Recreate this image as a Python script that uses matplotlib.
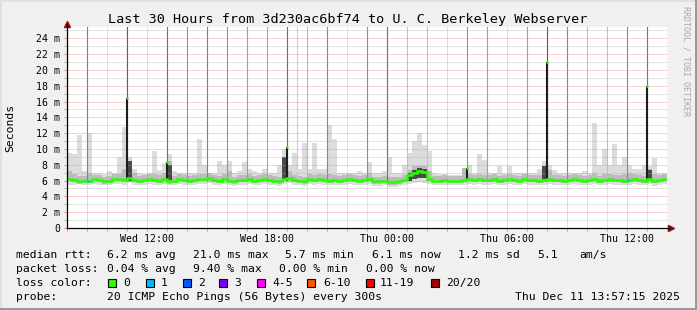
import numpy as np
import matplotlib
matplotlib.use('Agg')
import matplotlib.pyplot as plt
from matplotlib.patches import Rectangle
from matplotlib.ticker import MultipleLocator, FuncFormatter

plt.rcParams['font.family'] = 'DejaVu Sans Mono'

#   time axis: hours since Wed 00:00, one bin per 15 minutes starting Wed 08:00
t_start = 8.0
bin_h = 0.25

#   median rtt per bin (ms)
median_ms = [
    6.2, 6.1, 5.9, 6.0, 6.0, 6.2, 6.1, 5.9, 6.0, 6.2, 6.2, 6.1, 6.3, 6.1, 6.0, 6.1, 6.2, 6.1, 6.0, 6.2,
    5.9, 6.0, 6.2, 6.1, 6.0, 6.1, 6.2, 6.2, 6.3, 6.1, 6.0, 6.2, 6.0, 5.9, 6.1, 6.1, 6.2, 6.0, 6.1, 6.2,
    6.1, 6.0, 5.9, 6.2, 6.3, 6.1, 6.0, 5.9, 6.2, 6.1, 6.2, 6.1, 6.0, 6.1, 6.0, 6.1, 6.2, 6.1, 6.0, 6.1,
    6.2, 5.9, 5.9, 6.0, 5.8, 5.8, 5.9, 6.1, 6.7, 7.0, 7.2, 7.1, 6.2, 6.0, 6.0, 6.1, 6.0, 6.0, 6.0, 6.1,
    6.2, 6.1, 6.2, 6.1, 6.1, 6.2, 6.0, 6.1, 6.2, 6.1, 6.0, 6.2, 6.1, 6.1, 6.0, 6.1, 6.2, 6.1, 6.1, 6.0,
    6.1, 6.2, 6.1, 6.0, 6.1, 6.2, 6.0, 6.1, 6.2, 6.1, 6.1, 6.0, 6.1, 6.2, 6.1, 6.0, 6.2, 6.0, 6.1, 6.2,
]

#   smoke: upper edge of the light smoke, the darker band and the bottom edge (ms)
smoke_hi = [
    9.5, 9.4, 11.8, 7.2, 12.0, 7.0, 6.9, 6.8, 7.2, 6.9, 9.0, 12.8, 9.0, 7.5, 7.0, 6.8, 6.9, 9.8, 7.4, 8.2,
    9.4, 7.2, 6.9, 7.0, 7.0, 7.0, 11.3, 8.0, 7.0, 7.0, 8.5, 8.0, 8.5, 7.0, 7.2, 8.4, 7.5, 7.2, 7.0, 7.5,
    7.0, 7.0, 8.0, 10.0, 8.0, 9.5, 7.5, 10.8, 7.5, 10.8, 7.5, 7.5, 13.0, 11.3, 7.0, 7.0, 7.0, 7.0, 7.2, 7.0,
    8.4, 7.0, 7.0, 7.2, 9.0, 7.0, 7.0, 8.0, 9.5, 11.0, 12.0, 10.5, 9.8, 7.0, 6.8, 6.8, 6.7, 6.7, 6.7, 7.3,
    8.0, 7.0, 9.4, 8.6, 7.0, 7.0, 7.8, 7.0, 7.8, 6.9, 6.9, 6.9, 7.0, 7.0, 7.5, 8.5, 8.0, 7.3, 7.0, 7.0,
    7.0, 7.0, 7.0, 7.2, 7.0, 13.3, 8.0, 10.0, 8.0, 10.6, 8.0, 9.0, 8.0, 7.5, 7.5, 8.0, 7.8, 8.8, 7.0, 7.0,
]
smoke_mid = [
    7.2, 6.8, 6.6, 6.6, 6.9, 6.7, 6.7, 6.5, 6.6, 6.8, 6.8, 7.5, 8.0, 6.9, 6.6, 6.7, 6.8, 6.8, 6.7, 7.0,
    8.5, 6.6, 6.8, 6.7, 6.6, 6.7, 6.8, 6.8, 6.9, 6.7, 6.6, 6.8, 7.2, 6.5, 6.7, 6.7, 6.8, 6.6, 6.7, 6.8,
    6.7, 6.6, 6.5, 8.5, 7.2, 6.7, 6.6, 6.5, 6.8, 6.7, 6.8, 6.7, 6.8, 6.7, 6.6, 6.7, 6.8, 6.7, 6.6, 6.7,
    7.0, 6.5, 6.5, 6.6, 6.4, 6.4, 6.5, 6.7, 7.4, 7.8, 7.9, 7.9, 7.2, 6.6, 6.6, 6.7, 6.6, 6.6, 6.6, 7.6,
    6.8, 6.7, 6.8, 6.7, 6.7, 6.8, 6.6, 6.7, 6.8, 6.7, 6.6, 6.8, 6.7, 6.7, 6.7, 7.6, 7.4, 6.7, 6.7, 6.6,
    6.7, 6.8, 6.7, 6.6, 6.7, 6.9, 6.6, 6.8, 6.8, 6.7, 6.7, 6.8, 6.9, 6.8, 6.7, 6.6, 7.5, 6.8, 6.7, 6.8,
]
smoke_lo = [
    5.5, 5.4, 5.6, 5.5, 5.5, 5.6, 5.5, 5.4, 5.5, 5.6, 5.6, 5.5, 5.7, 5.5, 5.4, 5.5, 5.6, 5.5, 5.5, 5.6,
    5.4, 5.5, 5.6, 5.5, 5.5, 5.5, 5.6, 5.6, 5.7, 5.5, 5.5, 5.6, 5.4, 5.3, 5.5, 5.5, 5.6, 5.5, 5.5, 5.6,
    5.5, 5.5, 5.3, 5.6, 5.7, 5.5, 5.4, 5.3, 5.6, 5.5, 5.6, 5.5, 5.5, 5.5, 5.4, 5.5, 5.6, 5.5, 5.4, 5.5,
    5.6, 5.3, 5.3, 5.4, 5.2, 5.2, 5.3, 5.5, 5.6, 5.7, 5.8, 5.7, 5.6, 5.5, 5.4, 5.5, 5.5, 5.5, 5.5, 5.5,
    5.6, 5.5, 5.6, 5.5, 5.5, 5.6, 5.4, 5.5, 5.6, 5.5, 5.4, 5.6, 5.5, 5.5, 5.5, 5.5, 5.6, 5.5, 5.5, 5.4,
    5.5, 5.6, 5.5, 5.4, 5.5, 5.6, 5.4, 5.5, 5.6, 5.5, 5.5, 5.4, 5.5, 5.6, 5.5, 5.4, 5.6, 5.3, 5.5, 5.6,
]

#   dense (dark) smoke patches: bin index, bottom, top (ms)
dense_bins = [12, 20, 43, 68, 69, 70, 71, 95, 116]
dense_lo = [6.0, 6.1, 6.2, 6.0, 6.2, 6.3, 6.3, 6.2, 6.2]
dense_hi = [8.5, 8.0, 9.0, 7.0, 7.4, 7.6, 7.5, 7.8, 7.4]

#   bins where the median had packet loss (count of lost pings)
loss_bins = [4, 112]
loss_counts = [1, 1]

#   hourly smoke lines running off the top of the graph (hour, shade)
line_hours = [8, 9, 11, 13, 14, 15, 16, 17, 18, 19, 19.5, 20, 21, 23, 24, 25, 26, 28, 29, 31, 32, 33, 34, 35, 36, 37]
line_shades = ['#555555', '#6e6e6e', '#2e2e2e', '#4e4e4e', '#858585', '#6e6e6e', '#858585', '#959595',
               '#aaaaaa', '#4a4a4a', '#cccccc', '#bdbdbd', '#7a7a7a', '#7a7a7a', '#555555', '#cccccc',
               '#cccccc', '#858585', '#999999', '#999999', '#2e2e2e', '#7a7a7a', '#cccccc', '#c8c8c8',
               '#7a7a7a', '#555555']

#   single 5 minute median spikes (hour, ms)
spike_hours = [11, 13, 19, 28, 32, 37]
spike_med = [16.4, 8.4, 10.3, 7.6, 21.0, 18.0]

tick_hours = [12, 18, 24, 30, 36]
tick_labels = ['Wed 12:00', 'Wed 18:00', 'Thu 00:00', 'Thu 06:00', 'Thu 12:00']

loss_names = ['0', '1', '2', '3', '4-5', '6-10', '11-19', '20/20']
loss_colors = ['#26ff00', '#00b8ff', '#0059ff', '#7e00ff', '#ff00ff', '#ff5500', '#ff0000', '#a10000']

W, H = 697, 310
fx = lambda x: x / W
fy = lambda y: 1 - y / H

fig = plt.figure(figsize=(W / 100, H / 100), dpi=100)
fig.patch.set_facecolor('#f0f0f0')

ax = fig.add_axes([fx(67), fy(228), 600 / W, 201 / H])
ax.set_facecolor('white')
ax.set_xlim(8, 38)
ax.set_ylim(0, 201 / 7.904)

edges = t_start + bin_h * np.arange(len(median_ms) + 1)
med = np.array(median_ms)

#   smoke
ax.stairs(smoke_hi, edges, baseline=smoke_lo, fill=True, color='#dcdcdc', lw=0, zorder=1)
ax.stairs(smoke_mid, edges, baseline=med - 0.3, fill=True, color='#bcbcbc', lw=0, zorder=1.2)
for b, lo, hi in zip(dense_bins, dense_lo, dense_hi):
    ax.fill_between([edges[b], edges[b + 1]], lo, hi, color='#4a4a4a', lw=0, zorder=1.3)

#   hourly lines
ax.vlines(line_hours, 6.0, 30, colors=line_shades, lw=0.8, zorder=1.5)

#   spikes
ax.vlines(spike_hours, 6.0, spike_med, colors='#1c1c1c', lw=1.5, zorder=3)

#   median
ax.stairs(med, edges, baseline=None, color=loss_colors[0], lw=1.8, zorder=4)
for b, n in zip(loss_bins, loss_counts):
    ax.hlines(med[b], edges[b], edges[b] + 1 / 12, colors=loss_colors[n], lw=1.8, zorder=4.5)
sh = np.array(spike_hours, dtype=float)
ax.hlines(spike_med, sh - 0.03, sh + 0.07, colors=loss_colors[0], lw=1.8, zorder=4.5)

#   grid
ax.xaxis.set_major_locator(MultipleLocator(3))
ax.xaxis.set_minor_locator(MultipleLocator(1))
ax.yaxis.set_major_locator(MultipleLocator(2))
ax.yaxis.set_minor_locator(MultipleLocator(1))
lab = dict(zip(tick_hours, tick_labels))
ax.xaxis.set_major_formatter(FuncFormatter(lambda v, p: lab.get(int(round(v)), '')))
ax.yaxis.set_major_formatter(FuncFormatter(lambda v, p: '0' if v == 0 else '%d m' % v))
ax.set_axisbelow(False)
ax.grid(which='major', color='#ff8080', ls=(0, (1, 1)), lw=0.72, alpha=0.7)
ax.grid(which='minor', color='#b0b0b0', ls=(0, (1, 1)), lw=0.72, alpha=0.7)

ax.tick_params(which='major', length=2, width=0.72, color='#ff8080', labelsize=7.1, pad=2)
ax.tick_params(which='minor', length=2, width=0.72, color='#b0b0b0')
ax.tick_params(axis='y', pad=3)

for s in ['top', 'right']:
    ax.spines[s].set_visible(False)
for s in ['left', 'bottom']:
    ax.spines[s].set_color('black')
    ax.spines[s].set_linewidth(0.8)
    ax.spines[s].set_zorder(6)

#   axis arrows
fig.add_artist(plt.Line2D([fx(67), fx(67)], [fy(228), fy(24)], color='black', lw=0.8))
fig.add_artist(plt.Line2D([fx(67), fx(670)], [fy(228), fy(228)], color='black', lw=0.8))
ax.plot([fx(67)], [fy(23.5)], marker='^', ms=4.5, color='#8b1010', transform=fig.transFigure, clip_on=False)
ax.plot([fx(670.5)], [fy(228)], marker='>', ms=4.5, color='#8b1010', transform=fig.transFigure, clip_on=False)

#   texts
fig.text(fx(348), fy(19), 'Last 30 Hours from 3d230ac6bf74 to U. C. Berkeley Webserver',
         ha='center', va='center', fontsize=9.7)
fig.text(fx(10), fy(128), 'Seconds', rotation=90, ha='center', va='center', fontsize=8.2)
fig.text(fx(686), fy(61), 'RRDTOOL / TOBI OETIKER', rotation=270, ha='center', va='center',
         fontsize=6, color='#a8a8a8')

fs = 8.2
row1 = [(16, 'median rtt:'), (107, '6.2 ms avg'), (193, '21.0 ms max'), (285, '5.7 ms min'),
        (372, '6.1 ms now'), (458, '1.2 ms sd'), (537, '5.1'), (579, 'am/s')]
row2 = [(16, 'packet loss:'), (107, '0.04 % avg'), (193, '9.40 % max'), (279, '0.00 % min'),
        (366, '0.00 % now')]
for x, s in row1:
    fig.text(fx(x), fy(258.3), s, ha='left', va='baseline', fontsize=fs)
for x, s in row2:
    fig.text(fx(x), fy(272.3), s, ha='left', va='baseline', fontsize=fs)

fig.text(fx(16), fy(286.2), 'loss color:', ha='left', va='baseline', fontsize=fs)
sw_x = [108, 146, 183, 219, 257, 307, 366, 431]
lb_x = [123, 161, 198, 234, 272, 323, 380, 446]
for sx, lx, name, c in zip(sw_x, lb_x, loss_names, loss_colors):
    fig.patches.append(Rectangle((fx(sx), fy(286.5)), 8 / W, 8 / H, transform=fig.transFigure,
                                 facecolor=c, edgecolor='black', lw=0.8))
    fig.text(fx(lx), fy(286.2), name, ha='left', va='baseline', fontsize=fs)

fig.text(fx(16), fy(300), 'probe:', ha='left', va='baseline', fontsize=fs)
fig.text(fx(107), fy(300), '20 ICMP Echo Pings (56 Bytes) every 300s', ha='left', va='baseline', fontsize=fs)
fig.text(fx(680), fy(300), 'Thu Dec 11 13:57:15 2025', ha='right', va='baseline', fontsize=fs)

#   3d frame
fig.patches.append(Rectangle((0, 1 - 2 / H), 1, 2 / H, transform=fig.transFigure, color='#e0e0e0', lw=0))
fig.patches.append(Rectangle((0, 0), 2 / W, 1, transform=fig.transFigure, color='#e0e0e0', lw=0))
fig.patches.append(Rectangle((0, 0), 1, 2 / H, transform=fig.transFigure, color='#9a9a9a', lw=0))
fig.patches.append(Rectangle((1 - 2 / W, 0), 2 / W, 1, transform=fig.transFigure, color='#9a9a9a', lw=0))

fig.savefig('out.png', dpi=100, facecolor=fig.get_facecolor())
